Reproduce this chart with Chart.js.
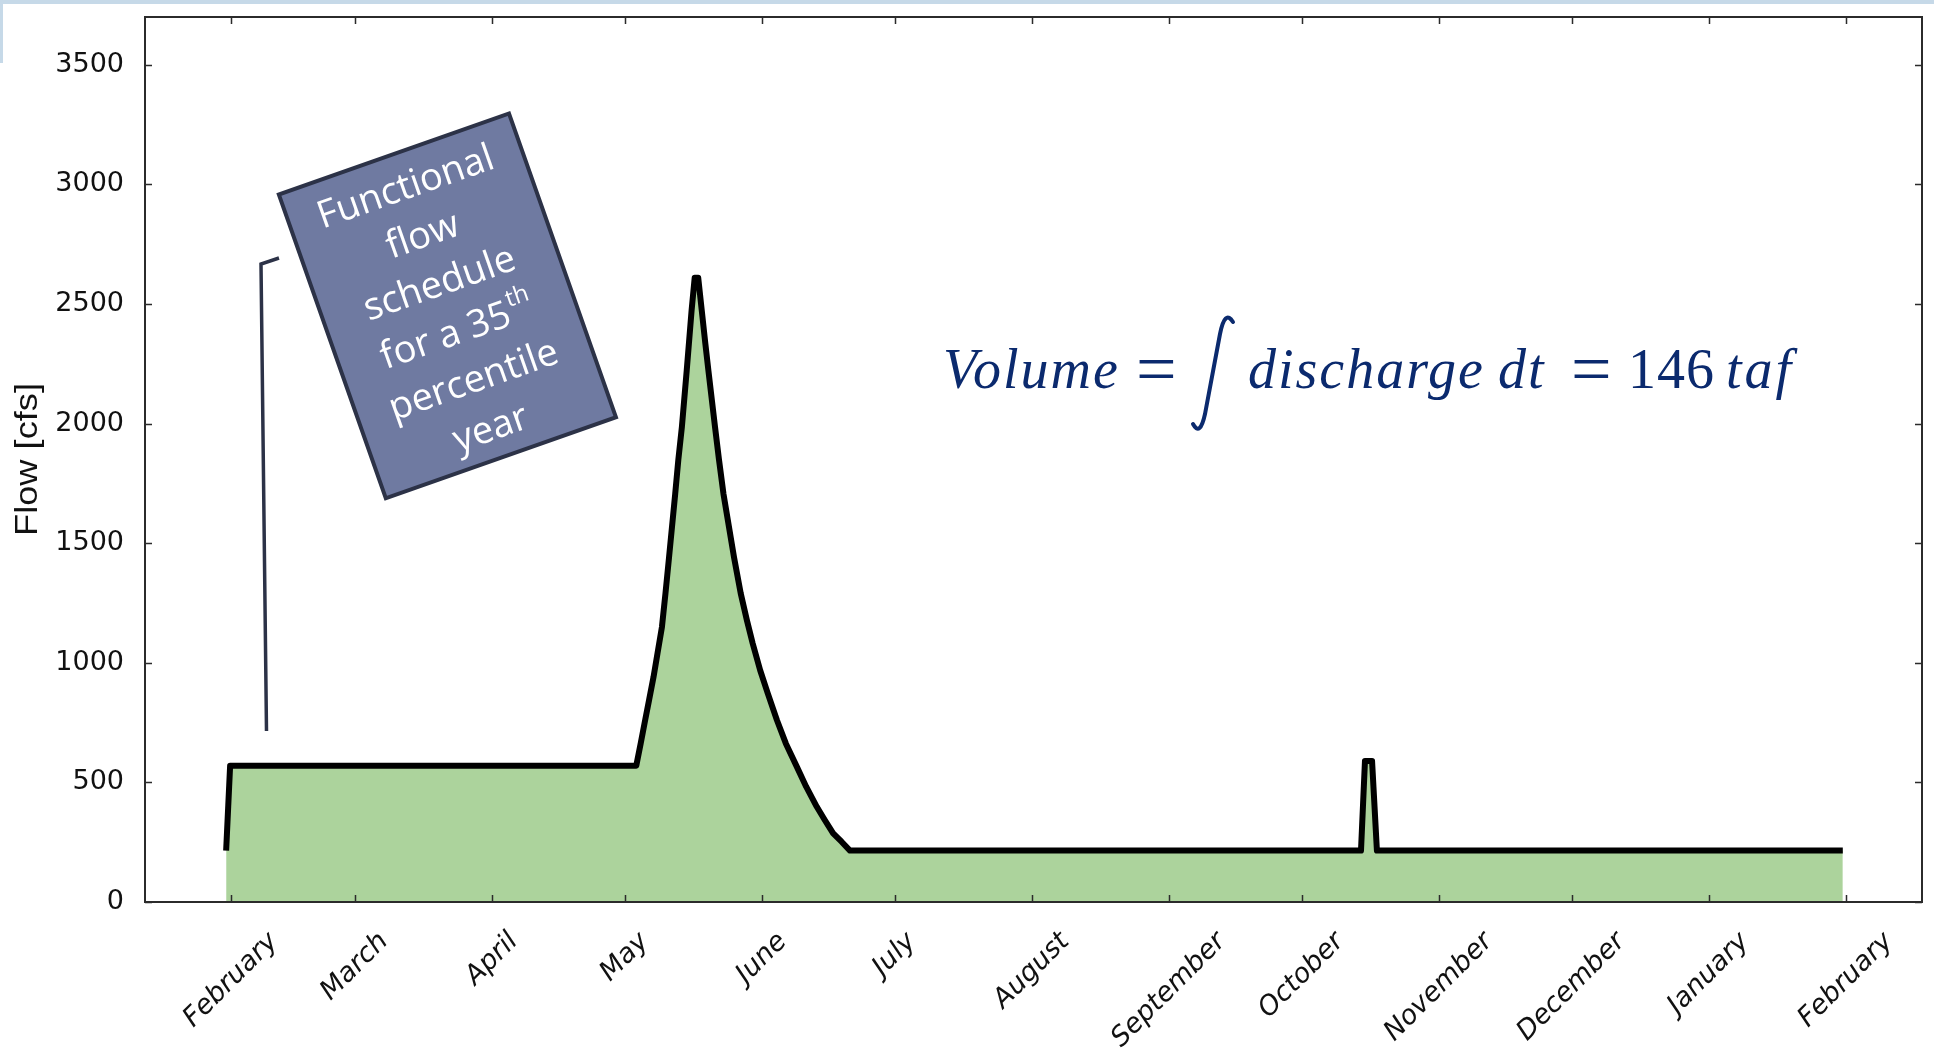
<!DOCTYPE html>
<html>
<head>
  <title>Functional flow schedule</title>
  <script src="https://cdn.jsdelivr.net/npm/chart.js@4.4.0/dist/chart.umd.min.js"></script>
  <style>
    body { margin: 0; background: #fff; }
    canvas { display: block; }
  </style>
</head>
<body>
  <canvas id="chart" width="1934" height="1053"></canvas>

  <script>
    // month ticks: days counted from 1 February
    const monthLabels = ['February', 'March', 'April', 'May', 'June', 'July', 'August',
      'September', 'October', 'November', 'December', 'January', 'February'];
    const monthDays = [0, 28, 59, 89, 120, 150, 181, 212, 242, 273, 303, 334, 365];
    const yTicks = [0, 500, 1000, 1500, 2000, 2500, 3000, 3500];

    // flow schedule (day, cfs)
    const flowDays = [-1.1, -0.2, 91.6, 92.6, 93.6, 94.5, 95.5, 96.4, 97.4, 98.2, 99.0, 100.4, 101.1,
      101.9, 103.0, 103.5, 104.1, 104.8, 105.6, 106.4, 107.2, 107.9, 109.4, 110.3, 111.3, 113.7,
      115.2, 116.6, 117.9, 119.6, 121.3, 123.4, 125.4, 127.9, 130.0, 132.4, 134.2, 136.1, 138.0, 139.9,
      255.4, 256.3, 257.9, 259.0, 364.3];
    const flowCfs = [215, 570, 570, 663, 760, 845, 941, 1040, 1150, 1291, 1440, 1707, 1848,
      1985, 2222, 2336, 2473, 2610, 2610, 2473, 2336, 2222, 1985, 1848, 1707, 1440,
      1291, 1178, 1082, 969, 873, 760, 663, 565, 482, 398, 343, 287, 252, 215,
      215, 590, 590, 215, 215];

    const boxLines = ['Functional', 'flow', 'schedule', 'for a 35', 'percentile', 'year'];

    const points = flowDays.map((d, i) => ({ x: d, y: flowCfs[i] }));

    // axes box, inward ticks, rotated month labels, y title
    const framePlugin = {
      id: 'frame',
      beforeDraw(chart) {
        const ctx = chart.ctx;
        ctx.save();
        ctx.fillStyle = '#c6d9e8';
        ctx.fillRect(0, 0, chart.width, 4);
        ctx.fillRect(0, 0, 3, 63);
        ctx.restore();
      },
      afterDatasetsDraw(chart) {
        const ctx = chart.ctx;
        const a = chart.chartArea;
        const xs = chart.scales.x, ys = chart.scales.y;
        ctx.save();
        ctx.strokeStyle = '#2b2b2b';
        ctx.lineWidth = 1.5;
        ctx.beginPath();
        monthDays.forEach(d => {
          const x = Math.round(xs.getPixelForValue(d)) + 0.5;
          ctx.moveTo(x, a.bottom); ctx.lineTo(x, a.bottom - 7);
          ctx.moveTo(x, a.top); ctx.lineTo(x, a.top + 7);
        });
        yTicks.forEach(v => {
          const y = Math.round(ys.getPixelForValue(v)) + 0.5;
          ctx.moveTo(a.left, y); ctx.lineTo(a.left + 7, y);
          ctx.moveTo(a.right, y); ctx.lineTo(a.right - 7, y);
        });
        ctx.stroke();
        ctx.lineWidth = 2;
        ctx.strokeRect(a.left, a.top, a.right - a.left, a.bottom - a.top);

        // month labels, centred on their tick
        ctx.fillStyle = '#111';
        ctx.font = 'oblique 27px "DejaVu Sans"';
        ctx.textAlign = 'center';
        ctx.textBaseline = 'middle';
        monthLabels.forEach((lab, i) => {
          const w = ctx.measureText(lab).width;
          const cx = xs.getPixelForValue(monthDays[i]);
          const cy = a.bottom + 27 + 0.707 * (w + 24) / 2;
          ctx.save();
          ctx.translate(cx, cy);
          ctx.rotate(-Math.PI / 4);
          ctx.fillText(lab, 0, 0);
          ctx.restore();
        });

        // y axis title
        ctx.save();
        ctx.font = '32px "Liberation Sans"';
        const tw = ctx.measureText('Flow [cfs]').width;
        ctx.translate(28, (a.top + a.bottom) / 2);
        ctx.rotate(-Math.PI / 2);
        ctx.scale(153 / tw, 1);
        ctx.fillText('Flow [cfs]', 0, 0);
        ctx.restore();
        ctx.restore();
      },
      afterDraw(chart) {
        const ctx = chart.ctx;
        ctx.save();
        // leader line
        ctx.strokeStyle = '#2c3247';
        ctx.lineWidth = 3.5;
        ctx.beginPath();
        ctx.moveTo(266.5, 731);
        ctx.lineTo(261, 264);
        ctx.lineTo(279, 258);
        ctx.stroke();

        // rotated note box
        ctx.save();
        ctx.translate(447.4, 305.9);
        ctx.rotate(-19.4 * Math.PI / 180);
        ctx.fillStyle = '#6f7aa1';
        ctx.fillRect(-122, -161, 244, 322);
        ctx.lineWidth = 4;
        ctx.strokeStyle = '#2c3247';
        ctx.strokeRect(-122, -161, 244, 322);
        ctx.fillStyle = '#ffffff';
        ctx.textBaseline = 'middle';
        ctx.textAlign = 'left';
        boxLines.forEach((ln, i) => {
          const y = (i - 2.5) * 51.2 + 3;
          ctx.font = '38px "Open Sans"';
          const w = ctx.measureText(ln).width;
          if (ln === 'for a 35') {
            ctx.font = '24px "Open Sans"';
            const ws = ctx.measureText('th').width;
            const x0 = -(w + ws) / 2;
            ctx.fillText('th', x0 + w + 1, y - 14);
            ctx.font = '38px "Open Sans"';
            ctx.fillText(ln, x0, y);
          } else {
            ctx.fillText(ln, -w / 2, y);
          }
        });
        ctx.restore();

        // volume equation
        ctx.fillStyle = '#0b2a6e';
        ctx.strokeStyle = '#0b2a6e';
        ctx.textBaseline = 'alphabetic';
        ctx.textAlign = 'left';
        const it = 'italic 56px "Liberation Serif"';
        const up = '56px "Liberation Serif"';
        const eq = '72px "Liberation Serif"';
        const parts = [['Volume', it, 943, 2], ['=', eq, 1136, 0], ['discharge', it, 1248, 2],
          ['dt', it, 1498, 2], ['=', eq, 1571, 0], ['146', up, 1628, 1], ['taf', it, 1726, 3]];
        parts.forEach(p => {
          ctx.font = p[1];
          ctx.letterSpacing = p[3] + 'px';
          ctx.fillText(p[0], p[2], p[1] === eq ? 393 : 388);
        });
        ctx.letterSpacing = '0px';
        ctx.lineWidth = 4;
        ctx.lineCap = 'round';
        ctx.beginPath();
        ctx.moveTo(1233, 322);
        ctx.quadraticCurveTo(1225, 309, 1220, 334);
        ctx.lineTo(1205, 414);
        ctx.quadraticCurveTo(1200, 437, 1193, 424);
        ctx.stroke();
        ctx.restore();
      }
    };

    new Chart(document.getElementById('chart'), {
      type: 'line',
      data: {
        datasets: [{
          data: points,
          borderColor: '#000000',
          borderWidth: 6,
          borderJoinStyle: 'round',
          backgroundColor: '#acd39c',
          fill: 'origin',
          pointRadius: 0,
          tension: 0
        }]
      },
      options: {
        responsive: false,
        animation: false,
        devicePixelRatio: 1,
        layout: { padding: { top: 17, right: 12, left: 0, bottom: 0 } },
        plugins: { legend: { display: false }, tooltip: { enabled: false } },
        scales: {
          x: {
            type: 'linear',
            min: -19.44,
            max: 382.2,
            afterBuildTicks: s => { s.ticks = monthDays.map(v => ({ value: v })); },
            ticks: { display: false },
            grid: { display: false, drawTicks: false },
            border: { display: false },
            afterFit: s => { s.height = 151; s.paddingLeft = 0; s.paddingRight = 0; }
          },
          y: {
            min: 0,
            max: 3700,
            afterBuildTicks: s => { s.ticks = yTicks.map(v => ({ value: v })); },
            ticks: {
              font: { family: 'DejaVu Sans', size: 27 },
              color: '#111',
              padding: 21,
              callback: v => String(v)
            },
            grid: { display: false, drawTicks: false },
            border: { display: false },
            afterFit: s => { s.width = 145; s.paddingTop = 0; s.paddingBottom = 0; }
          }
        }
      },
      plugins: [framePlugin]
    });
  </script>
</body>
</html>
